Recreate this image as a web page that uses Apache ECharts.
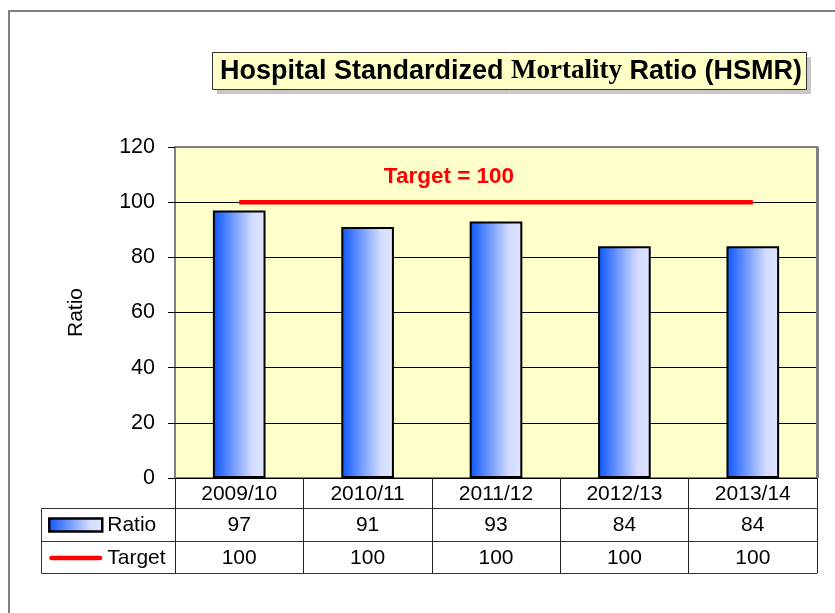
<!DOCTYPE html>
<html>
<head>
<meta charset="utf-8">
<script src="https://cdn.jsdelivr.net/npm/echarts@6/dist/echarts.min.js"></script>
<style>html,body{margin:0;padding:0;background:#fff}#c{width:835px;height:613px}</style>
</head>
<body>
<div id="c"></div>
<script>
var categories = ['2009/10', '2010/11', '2011/12', '2012/13', '2013/14'];
var ratioValues = [97, 91, 93, 84, 84];
var targetValues = [100, 100, 100, 100, 100];
var yTicks = [0, 20, 40, 60, 80, 100, 120];

var FONT = '"Liberation Sans", Arial, sans-serif';
var chart = echarts.init(document.getElementById('c'));

var G = {left: 175, right: 817, top: 147, bottom: 478};
var rowY = [508.5, 541.5, 573.5];
var tableLeft = 41.5;

var graphics = [
  {type: 'rect', shape: {x: 9, y: 11, width: 900, height: 700}, style: {fill: 'none', stroke: '#808080', lineWidth: 2}, silent: true},
  {type: 'rect', shape: {x: 217, y: 57, width: 594, height: 37}, style: {fill: '#c8c8c8'}, silent: true},
  {type: 'rect', shape: {x: 212.5, y: 52.5, width: 594, height: 37}, style: {fill: '#FFFFC8', stroke: '#333', lineWidth: 1}, silent: true},
  {type: 'text', x: 511, y: 71.5, style: {
    text: '{a|Hospital Standardized }{b|Mortality}{a| Ratio (HSMR)}',
    align: 'center', verticalAlign: 'middle',
    rich: {
      a: {fontFamily: FONT, fontWeight: 'bold', fontSize: 27, fill: '#000'},
      b: {fontFamily: '"Liberation Serif", "Times New Roman", serif', fontWeight: 'bold', fontSize: 27, fill: '#000'}
    }
  }, silent: true},
  {type: 'line', shape: {x1: tableLeft, y1: rowY[0], x2: tableLeft, y2: rowY[2]}, style: {stroke: '#333', lineWidth: 1}, silent: true},
  {type: 'line', z: 10, shape: {x1: G.left, y1: G.top, x2: G.right + 1, y2: G.top}, style: {stroke: '#808080', lineWidth: 2}, silent: true},
  {type: 'line', z: 10, shape: {x1: G.right + 0.5, y1: G.top, x2: G.right + 0.5, y2: G.bottom}, style: {stroke: '#808080', lineWidth: 3}, silent: true}
];
rowY.forEach(function (y) {
  graphics.push({type: 'line', shape: {x1: tableLeft, y1: y, x2: G.right, y2: y}, style: {stroke: '#333', lineWidth: 1}, silent: true});
});

var barGradient = new echarts.graphic.LinearGradient(0, 0, 1, 0, [
  {offset: 0, color: '#0a55ff'},
  {offset: 0.75, color: '#d4dcff'},
  {offset: 1, color: '#dfe5ff'}
]);

var option = {
  animation: false,
  backgroundColor: '#fff',
  textStyle: {fontFamily: FONT},
  grid: {
    left: G.left, right: 835 - G.right, top: G.top, bottom: 613 - G.bottom,
    show: true, backgroundColor: '#FFFFCC', borderColor: '#808080', borderWidth: 2
  },
  legend: {
    orient: 'vertical', left: 48, top: 513, padding: 0,
    itemWidth: 53, itemHeight: 13, itemGap: 9,
    textStyle: {fontFamily: FONT, fontSize: 21, color: '#000', lineHeight: 24},
    data: [
      {name: 'Ratio', icon: 'rect', itemStyle: {borderColor: '#000', borderWidth: 2.5}},
      {name: 'Target', icon: 'path://M2,0H52A2,2,0,0,1,52,4.5H2A2,2,0,0,1,2,0Z'}
    ]
  },
  xAxis: [
    {
      type: 'category', data: categories, position: 'bottom',
      axisLine: {lineStyle: {color: '#000', width: 1}},
      axisTick: {show: true, interval: 0, length: 95, lineStyle: {color: '#222'}},
      axisLabel: {interval: 0, margin: 6, fontSize: 21, color: '#000', fontFamily: FONT}
    },
    {
      type: 'category', data: categories, position: 'bottom',
      axisLine: {show: false}, axisTick: {show: false},
      axisLabel: {interval: 0, margin: 37, fontSize: 21, color: '#000', fontFamily: FONT,
        formatter: function (v, i) { return String(ratioValues[i]); }}
    },
    {
      type: 'category', data: categories, position: 'bottom',
      axisLine: {show: false}, axisTick: {show: false},
      axisLabel: {interval: 0, margin: 70, fontSize: 21, color: '#000', fontFamily: FONT,
        formatter: function (v, i) { return String(targetValues[i]); }}
    }
  ],
  yAxis: {
    type: 'value', min: yTicks[0], max: yTicks[yTicks.length - 1], interval: yTicks[1] - yTicks[0],
    name: 'Ratio', nameLocation: 'middle', nameGap: 88, nameRotate: 90,
    nameTextStyle: {fontSize: 21, color: '#000', fontFamily: FONT},
    axisLine: {show: false},
    axisTick: {show: true, length: 7, lineStyle: {color: '#000'}},
    axisLabel: {margin: 20, fontSize: 21.5, color: '#000', fontFamily: FONT},
    splitLine: {show: true, lineStyle: {color: '#000', width: 1}}
  },
  series: [
    {
      name: 'Ratio', type: 'bar', xAxisIndex: 0, barWidth: '41%',
      data: ratioValues,
      itemStyle: {color: barGradient, borderColor: '#000', borderWidth: 2},
      z: 2
    },
    {
      name: 'Target', type: 'line', xAxisIndex: 0, symbol: 'circle', symbolSize: 1, showSymbol: true,
      lineStyle: {color: '#ff0000', width: 4.5},
      itemStyle: {color: '#ff0000'},
      data: targetValues.map(function (v, i) {
        return i === 2 ? {value: v, label: {show: true}} : v;
      }),
      label: {show: false, position: 'top', distance: 13, offset: [-47, 0], formatter: 'Target = {c}',
        fontFamily: FONT, fontWeight: 'bold', fontSize: 22.5, color: '#ff0000'},
      z: 3
    }
  ],
  graphic: graphics
};
chart.setOption(option);
</script>
</body>
</html>
